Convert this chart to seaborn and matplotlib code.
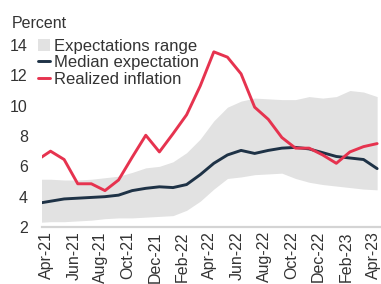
import pandas as pd
import seaborn as sns
import matplotlib
import matplotlib.pyplot as plt
import matplotlib.transforms as mtransforms
from matplotlib.patches import Patch
from matplotlib.lines import Line2D

matplotlib.use("Agg")

# Monthly data, Mar-21 .. Apr-23
months = ["Mar-21", "Apr-21", "May-21", "Jun-21", "Jul-21", "Aug-21", "Sep-21",
          "Oct-21", "Nov-21", "Dec-21", "Jan-22", "Feb-22", "Mar-22", "Apr-22",
          "May-22", "Jun-22", "Jul-22", "Aug-22", "Sep-22", "Oct-22", "Nov-22",
          "Dec-22", "Jan-23", "Feb-23", "Mar-23", "Apr-23"]

realized = [6.4, 7.0, 6.45, 4.85, 4.85, 4.4, 5.1, 6.6, 8.05, 6.95, 8.15, 9.4, 11.3,
            13.55, 13.2, 12.1, 9.9, 9.1, 7.9, 7.2, 7.2, 6.75, 6.2, 6.95, 7.3, 7.5]

median = [3.55, 3.7, 3.85, 3.9, 3.95, 4.0, 4.1, 4.4, 4.55, 4.65, 4.6, 4.8, 5.45,
          6.2, 6.75, 7.05, 6.85, 7.05, 7.2, 7.25, 7.15, 6.9, 6.65, 6.55, 6.45, 5.85]

range_low = [2.3, 2.35, 2.35, 2.4, 2.45, 2.55, 2.6, 2.6, 2.65, 2.7, 2.75, 3.1, 3.7,
             4.5, 5.2, 5.3, 5.45, 5.5, 5.55, 5.2, 4.95, 4.8, 4.7, 4.6, 4.5, 4.45]

range_high = [5.15, 5.15, 5.1, 5.1, 5.15, 5.25, 5.35, 5.6, 5.9, 6.0, 6.3, 6.9, 7.8,
              9.0, 9.9, 10.3, 10.5, 10.45, 10.4, 10.4, 10.6, 10.5, 10.6, 11.0, 10.9, 10.6]

RED = "#e6334f"
NAVY = "#1e3246"
BAND = "#e2e2e2"

df = pd.DataFrame({
    "t": range(len(months)),
    "month": months,
    "Realized inflation": realized,
    "Median expectation": median,
    "low": range_low,
    "high": range_high,
})

sns.set_theme(style="white")
plt.rcParams["font.family"] = ["Liberation Sans", "DejaVu Sans"]

fig = plt.figure(figsize=(3.81, 2.84), dpi=100)
ax = fig.add_axes([0.1094, 0.2007, 0.8876, 0.6408])

ax.fill_between(df["t"], df["low"], df["high"], color=BAND, linewidth=0)
sns.lineplot(data=df, x="t", y="Median expectation", color=NAVY, linewidth=2.1, ax=ax)
sns.lineplot(data=df, x="t", y="Realized inflation", color=RED, linewidth=2.1, ax=ax)

ax.set_xlim(0.35, 25.2)
ax.set_ylim(2, 14)
ax.set_yticks([2, 4, 6, 8, 10, 12, 14])
tick_idx = list(range(1, len(months), 2))
ax.set_xticks(tick_idx)
ax.set_xticklabels([months[i] for i in tick_idx], rotation=90)
ax.tick_params(axis="x", length=0, pad=3, labelsize=11.5, labelcolor="#333333")
ax.tick_params(axis="y", length=0, pad=10, labelsize=11.5, labelcolor="#333333")
ax.set_xlabel("")
ax.set_ylabel("")

# nudge the month labels a few pixels left, as in the original
shift = mtransforms.ScaledTranslation(-0.04, 0, fig.dpi_scale_trans)
for lbl in ax.get_xticklabels():
    lbl.set_transform(lbl.get_transform() + shift)

for side in ["left", "right", "top"]:
    ax.spines[side].set_visible(False)
ax.spines["bottom"].set_color("#d4d4d4")
ax.spines["bottom"].set_linewidth(1.6)

fig.text(0.03, 0.918, "Percent", fontsize=11.5, color="#333333", va="center", ha="left")

handles = [
    Patch(facecolor=BAND, edgecolor="none"),
    Line2D([0], [0], color=NAVY, linewidth=2.1),
    Line2D([0], [0], color=RED, linewidth=2.1),
]
labels = ["Expectations range", "Median expectation", "Realized inflation"]
ax.legend(handles, labels, loc="upper left", bbox_to_anchor=(-0.01, 1.035),
          frameon=False, fontsize=12, handlelength=0.7, handletextpad=0.25,
          labelspacing=0.1, borderpad=0, borderaxespad=0, labelcolor="#333333")

fig.savefig("out.png", dpi=100)
plt.close(fig)
